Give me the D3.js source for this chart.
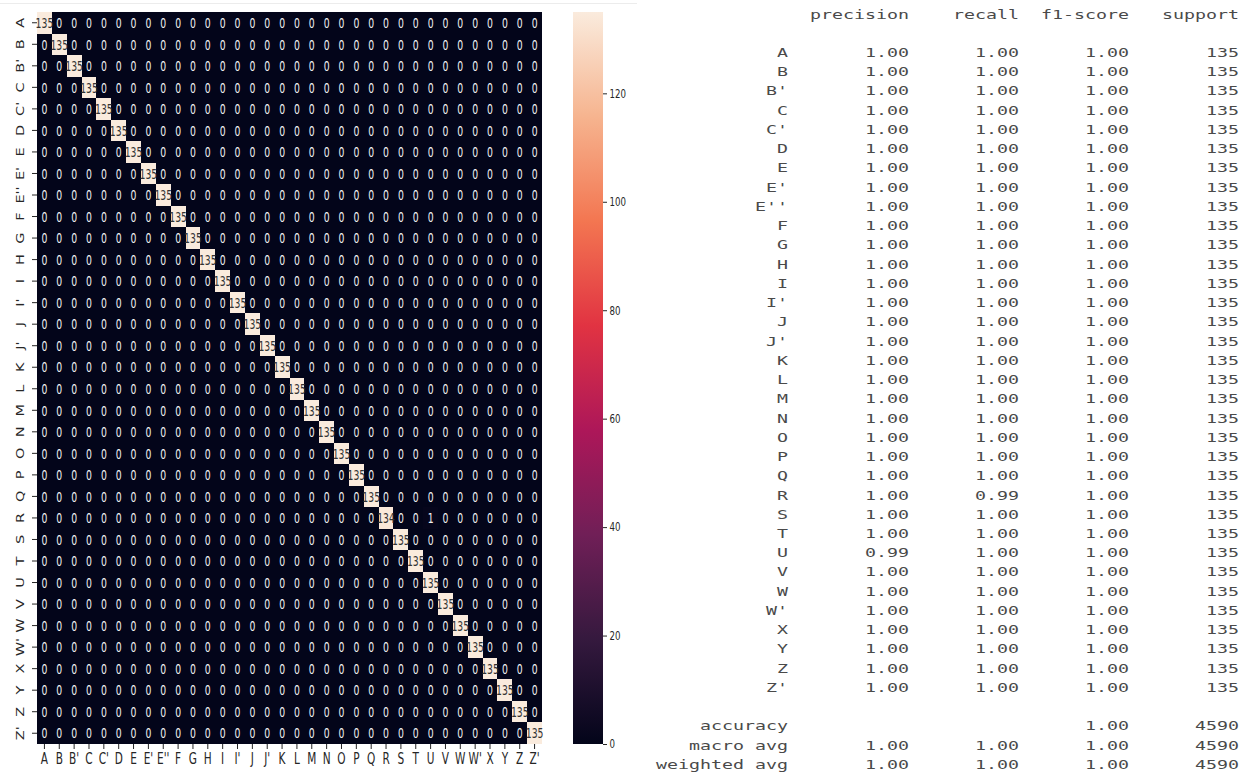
<!DOCTYPE html>
<html lang="en">
  <head>
    <meta charset="utf-8" />
    <title>confusion matrix + classification report</title>
    <script src="https://cdnjs.cloudflare.com/ajax/libs/d3/7.8.5/d3.min.js"></script>
    <style type="text/css">
      body {
        margin: 0;
        background: #fff;
      }

      .axis text {
        font-family: "DejaVu Sans", sans-serif;
        fill: #262626;
      }

      .axis line {
        stroke: #262626;
      }

      .annot {
        font-family: "DejaVu Sans", sans-serif;
        font-size: 14.5px;
      }

      .report text {
        font-family: "DejaVu Sans Mono", monospace;
        font-size: 12.5px;
        fill: #4a4a4a;
      }
    </style>
  </head>

  <body>
    <script>
      // classes (rows = true label, columns = predicted)
      const classes = ["A", "B", "B'", "C", "C'", "D", "E", "E'", "E''", "F", "G", "H", "I", "I'",
        "J", "J'", "K", "L", "M", "N", "O", "P", "Q", "R", "S", "T", "U", "V", "W", "W'",
        "X", "Y", "Z", "Z'"];

      // diagonal of the confusion matrix
      const correct = [135, 135, 135, 135, 135, 135, 135, 135, 135, 135, 135, 135, 135, 135,
        135, 135, 135, 135, 135, 135, 135, 135, 135, 134, 135, 135, 135, 135, 135, 135,
        135, 135, 135, 135];

      // the only off-diagonal cell that is not 0
      const confusions = [{ actual: "R", predicted: "U", count: 1 }];

      const colorTicks = [0, 20, 40, 60, 80, 100, 120];

      // seaborn "rocket"
      const rocket = ["#03051a", "#35193e", "#701f57", "#ad1759", "#e13342", "#f37651", "#f6b48f", "#faebdd"];

      // classification report
      const reportHeaders = ["precision", "recall", "f1-score", "support"];
      const precision = [1.00, 1.00, 1.00, 1.00, 1.00, 1.00, 1.00, 1.00, 1.00, 1.00, 1.00, 1.00, 1.00, 1.00,
        1.00, 1.00, 1.00, 1.00, 1.00, 1.00, 1.00, 1.00, 1.00, 1.00, 1.00, 1.00, 0.99, 1.00, 1.00, 1.00,
        1.00, 1.00, 1.00, 1.00];
      const recall = [1.00, 1.00, 1.00, 1.00, 1.00, 1.00, 1.00, 1.00, 1.00, 1.00, 1.00, 1.00, 1.00, 1.00,
        1.00, 1.00, 1.00, 1.00, 1.00, 1.00, 1.00, 1.00, 1.00, 0.99, 1.00, 1.00, 1.00, 1.00, 1.00, 1.00,
        1.00, 1.00, 1.00, 1.00];
      const f1 = [1.00, 1.00, 1.00, 1.00, 1.00, 1.00, 1.00, 1.00, 1.00, 1.00, 1.00, 1.00, 1.00, 1.00,
        1.00, 1.00, 1.00, 1.00, 1.00, 1.00, 1.00, 1.00, 1.00, 1.00, 1.00, 1.00, 1.00, 1.00, 1.00, 1.00,
        1.00, 1.00, 1.00, 1.00];
      const support = [135, 135, 135, 135, 135, 135, 135, 135, 135, 135, 135, 135, 135, 135,
        135, 135, 135, 135, 135, 135, 135, 135, 135, 135, 135, 135, 135, 135, 135, 135,
        135, 135, 135, 135];

      const avgLabels = ["accuracy", "macro avg", "weighted avg"];
      const avgPrecision = [null, 1.00, 1.00];
      const avgRecall = [null, 1.00, 1.00];
      const avgF1 = [1.00, 1.00, 1.00];
      const avgSupport = [4590, 4590, 4590];

      // dimensions
      const width = 1249;
      const height = 772;
      const squeeze = 0.68; // the left figure is narrowed horizontally

      const hmLeft = 37, hmRight = 542, hmTop = 12, hmBottom = 744;
      const cbLeft = 573, cbRight = 603;

      // build the matrix from the diagonal + confusions
      const cells = [];
      classes.forEach((r, i) => {
        classes.forEach((c, j) => {
          let v = i === j ? correct[i] : 0;
          const hit = confusions.find(d => d.actual === r && d.predicted === c);
          if (hit) v = hit.count;
          cells.push({ row: r, col: c, value: v });
        });
      });

      const vmax = d3.max(cells, d => d.value);

      const x = d3.scaleBand().domain(classes).range([hmLeft, hmRight]);
      const y = d3.scaleBand().domain(classes).range([hmTop, hmBottom]);

      const color = d3.scaleLinear()
        .domain(rocket.map((d, i) => vmax * i / (rocket.length - 1)))
        .range(rocket)
        .interpolate(d3.interpolateRgb);

      const svg = d3.select("body")
        .append("svg")
        .attr("width", width)
        .attr("height", height)
        .attr("viewBox", [0, 0, width, height]);

      // faint frame line at the top of the figure
      svg.append("line")
        .attr("x1", 0).attr("x2", 637)
        .attr("y1", 3.5).attr("y2", 3.5)
        .attr("stroke", "#ececec");

      // cells
      svg.append("g")
        .selectAll("rect")
        .data(cells)
        .join("rect")
        .attr("x", d => x(d.col))
        .attr("y", d => y(d.row))
        .attr("width", x.bandwidth())
        .attr("height", y.bandwidth())
        .attr("shape-rendering", "crispEdges")
        .attr("fill", d => color(d.value));

      // annotations
      svg.append("g")
        .selectAll("text")
        .data(cells)
        .join("text")
        .attr("class", "annot")
        .attr("transform", d => `translate(${x(d.col) + x.bandwidth() / 2},${y(d.row) + y.bandwidth() / 2}) scale(0.64,1)`)
        .attr("text-anchor", "middle")
        .attr("dy", "0.36em")
        .attr("fill", d => {
          const c = d3.rgb(color(d.value));
          const lum = (0.2126 * c.r + 0.7152 * c.g + 0.0722 * c.b) / 255;
          return lum > 0.408 ? "#333333" : "#f2f2f2";
        })
        .text(d => d.value);

      // x axis
      svg.append("g")
        .attr("class", "axis")
        .attr("transform", `translate(0,${hmBottom})`)
        .call(d3.axisBottom(x).tickSize(5).tickPadding(4).tickSizeOuter(0))
        .call(g => g.select(".domain").remove())
        .call(g => g.selectAll(".tick text")
          .attr("font-size", 15.5)
          .attr("transform", `scale(${squeeze},1)`));

      // y axis, labels turned vertical
      svg.append("g")
        .attr("class", "axis")
        .attr("transform", `translate(${hmLeft},0)`)
        .call(d3.axisLeft(y).tickSize(5).tickSizeOuter(0))
        .call(g => g.select(".domain").remove())
        .call(g => g.selectAll(".tick text")
          .attr("x", 0)
          .attr("y", 0)
          .attr("dy", 0)
          .attr("text-anchor", "middle")
          .attr("font-size", 14.5)
          .attr("transform", `translate(-13,0) scale(${squeeze},1) rotate(-90)`));

      // colorbar
      const cb = d3.scaleLinear().domain([0, vmax]).range([hmBottom, hmTop]);

      const grad = svg.append("defs")
        .append("linearGradient")
        .attr("id", "rocket")
        .attr("x1", 0).attr("y1", 1)
        .attr("x2", 0).attr("y2", 0);

      grad.selectAll("stop")
        .data(color.domain())
        .join("stop")
        .attr("offset", d => d / vmax)
        .attr("stop-color", d => color(d));

      svg.append("rect")
        .attr("x", cbLeft)
        .attr("y", cb(vmax))
        .attr("width", cbRight - cbLeft)
        .attr("height", cb(0) - cb(vmax))
        .attr("fill", "url(#rocket)");

      svg.append("g")
        .attr("class", "axis")
        .attr("transform", `translate(${cbRight},0)`)
        .call(d3.axisRight(cb).tickValues(colorTicks).tickSize(4).tickSizeOuter(0))
        .call(g => g.select(".domain").remove())
        .call(g => g.selectAll(".tick text")
          .attr("x", 0)
          .attr("font-size", 12)
          .attr("transform", `translate(6.5,0) scale(0.72,1)`));

      // classification report, laid out on a character grid
      const charW = 11;
      const xChar = d3.scaleLinear().domain([0, 53]).range([656, 656 + 53 * charW]);
      const yLine = d3.scaleLinear().domain([0, 39]).range([14, 764.4]);
      const colEnds = [12, 23, 33, 43, 53];
      const fmt = d3.format(".2f");

      const lines = [];
      lines.push({ line: 0, fields: ["", ...reportHeaders] });
      classes.forEach((c, i) => {
        lines.push({ line: 2 + i, fields: [c, fmt(precision[i]), fmt(recall[i]), fmt(f1[i]), String(support[i])] });
      });
      avgLabels.forEach((a, j) => {
        lines.push({
          line: 37 + j,
          fields: [a,
            avgPrecision[j] == null ? "" : fmt(avgPrecision[j]),
            avgRecall[j] == null ? "" : fmt(avgRecall[j]),
            fmt(avgF1[j]),
            String(avgSupport[j])]
        });
      });

      const fields = lines.flatMap(l => l.fields.map((s, k) => ({ line: l.line, col: k, s })))
        .filter(d => d.s !== "");

      svg.append("g")
        .attr("class", "report")
        .selectAll("text")
        .data(fields)
        .join("text")
        .attr("x", d => xChar(colEnds[d.col] - d.s.length))
        .attr("y", d => yLine(d.line))
        .attr("dy", "0.36em")
        .attr("textLength", d => d.s.length * charW)
        .attr("lengthAdjust", "spacingAndGlyphs")
        .text(d => d.s);
    </script>
  </body>
</html>
